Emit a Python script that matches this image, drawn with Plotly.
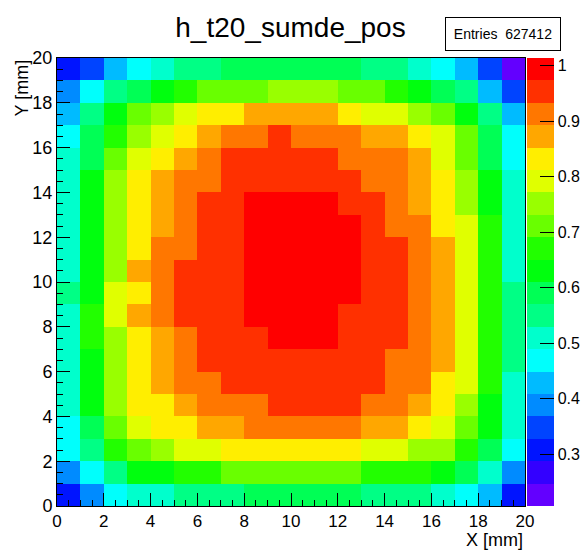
import plotly.graph_objects as go

TITLE = "h_t20_sumde_pos"
ENTRIES = 627412
X_TITLE = "X [mm]"
Y_TITLE = "Y [mm]"
X_RANGE = [0, 20]
Y_RANGE = [0, 20]
N_BINS_X = 20
N_BINS_Y = 20
Z_MIN = 0.207
Z_MAX = 1.014
AXIS_TICKS = [0, 2, 4, 6, 8, 10, 12, 14, 16, 18, 20]
CB_TICKS = [0.3, 0.4, 0.5, 0.6, 0.7, 0.8, 0.9, 1.0]
CB_TICK_TEXT = ["0.3", "0.4", "0.5", "0.6", "0.7", "0.8", "0.9", "1"]

# ROOT "pretty palette" colours used for the 20 contour levels (low -> high)
PALETTE = ["#6300ff", "#3300ff", "#0014ff", "#0044ff", "#008bff",
           "#00bbff", "#00fffc", "#00ffcc", "#00ff85", "#00ff55",
           "#00ff0e", "#22ff00", "#69ff00", "#99ff00", "#e0ff00",
           "#ffee00", "#ffa700", "#ff7700", "#ff3000", "#ff0000"]

# bin contents, rows from y=0 (bottom) to y=19 (top), columns x=0..19
Z = [
    [.31, .39, .47, .51, .51, .55, .55, .55, .59, .59, .59, .59, .59, .55, .55, .55, .51, .47, .43, .31],
    [.39, .47, .55, .63, .63, .67, .67, .71, .71, .71, .71, .71, .71, .67, .67, .67, .63, .59, .51, .39],
    [.47, .55, .67, .71, .75, .79, .79, .83, .83, .83, .83, .83, .83, .79, .79, .75, .75, .67, .59, .47],
    [.47, .59, .71, .79, .83, .83, .87, .87, .91, .91, .91, .91, .91, .87, .87, .83, .79, .71, .63, .51],
    [.51, .63, .75, .83, .83, .87, .91, .91, .91, .95, .95, .95, .95, .91, .91, .87, .83, .75, .63, .51],
    [.51, .63, .75, .83, .87, .91, .91, .95, .95, .95, .95, .95, .95, .95, .91, .91, .83, .79, .67, .51],
    [.51, .63, .75, .83, .87, .91, .95, .95, .95, .95, .95, .95, .95, .95, .91, .91, .87, .79, .67, .55],
    [.51, .67, .75, .83, .87, .91, .95, .95, .95, .99, .99, .99, .95, .95, .95, .91, .87, .79, .67, .55],
    [.51, .67, .79, .87, .91, .95, .95, .95, .99, .99, .99, .99, .95, .95, .95, .91, .87, .79, .67, .55],
    [.55, .63, .79, .83, .91, .95, .95, .95, .99, .99, .99, .99, .99, .95, .95, .91, .87, .79, .67, .55],
    [.51, .63, .75, .87, .91, .95, .95, .95, .99, .99, .99, .99, .99, .95, .95, .91, .87, .79, .67, .51],
    [.51, .63, .75, .83, .91, .91, .95, .95, .99, .99, .99, .99, .99, .95, .95, .91, .87, .79, .67, .51],
    [.51, .63, .75, .83, .87, .91, .95, .95, .99, .99, .99, .99, .99, .95, .91, .91, .83, .79, .67, .51],
    [.51, .63, .75, .83, .87, .91, .95, .95, .99, .99, .99, .99, .95, .95, .91, .87, .83, .75, .63, .51],
    [.51, .63, .75, .83, .87, .91, .91, .95, .95, .95, .95, .95, .95, .91, .91, .87, .83, .75, .63, .51],
    [.51, .59, .71, .79, .83, .87, .91, .95, .95, .95, .95, .95, .91, .91, .91, .87, .79, .71, .59, .47],
    [.47, .59, .67, .75, .79, .83, .87, .91, .91, .95, .91, .91, .91, .87, .87, .83, .79, .71, .59, .47],
    [.43, .55, .63, .71, .75, .79, .83, .83, .87, .87, .87, .87, .83, .79, .79, .75, .71, .63, .55, .43],
    [.39, .47, .55, .59, .63, .67, .71, .71, .71, .75, .75, .75, .71, .71, .67, .63, .59, .55, .43, .35],
    [.31, .35, .43, .47, .51, .55, .55, .59, .59, .59, .59, .59, .59, .55, .55, .51, .47, .43, .35, .23],
]

FONT = "Liberation Sans, Arial, Helvetica, sans-serif"
W, H = 581, 550
ML, MR, MT, MB = 57, 56, 58, 44
PW = W - ML - MR
PH = H - MT - MB

n = len(PALETTE)
colorscale = []
for i, c in enumerate(PALETTE):
    colorscale.append([i / n, c])
    colorscale.append([(i + 1) / n, c])

dx = (X_RANGE[1] - X_RANGE[0]) / N_BINS_X
dy = (Y_RANGE[1] - Y_RANGE[0]) / N_BINS_Y

fig = go.Figure(go.Heatmap(
    z=Z,
    x0=X_RANGE[0] + dx / 2, dx=dx,
    y0=Y_RANGE[0] + dy / 2, dy=dy,
    zmin=Z_MIN, zmax=Z_MAX,
    colorscale=colorscale,
    hoverinfo="skip",
    colorbar=dict(
        thickness=27, thicknessmode="pixels",
        len=1, lenmode="fraction",
        x=(527 - ML) / PW, xanchor="left", xpad=0,
        y=0.5, yanchor="middle", ypad=0,
        outlinewidth=0,
        ticks="inside", ticklen=14, tickwidth=1, tickcolor="black",
        tickvals=CB_TICKS, ticktext=CB_TICK_TEXT,
        tickfont=dict(family=FONT, size=16, color="black"),
    ),
))

axis_common = dict(
    showgrid=False, zeroline=False,
    showline=True, linecolor="black", linewidth=1, mirror=True,
    ticks="inside", ticklen=13, tickwidth=1, tickcolor="black",
    tickvals=AXIS_TICKS,
    minor=dict(dtick=0.5, ticks="inside", ticklen=6, tickcolor="black", tickwidth=1, showgrid=False),
)

fig.update_layout(
    width=W, height=H,
    margin=dict(l=ML, r=MR, t=MT, b=MB, autoexpand=False),
    paper_bgcolor="white", plot_bgcolor="white",
    font=dict(family=FONT, color="black"),
    xaxis=dict(range=X_RANGE, ticklabelstandoff=0,
               tickfont=dict(family=FONT, size=17, color="black"), **axis_common),
    yaxis=dict(range=Y_RANGE, ticklabelstandoff=0,
               tickfont=dict(family=FONT, size=18, color="black"), **axis_common),
    title=dict(text=TITLE, x=0.5, xref="container", xanchor="center",
               y=(H - 27) / H, yanchor="middle", yref="container",
               font=dict(family=FONT, size=28, color="black")),
    annotations=[
        dict(text=X_TITLE, xref="paper", yref="paper", x=1, y=0,
             xanchor="right", yanchor="top", yshift=-22, showarrow=False,
             font=dict(family=FONT, size=18, color="black")),
        dict(text=Y_TITLE, xref="paper", yref="paper", x=0, y=1,
             xanchor="center", yanchor="top", xshift=-36, textangle=-90,
             showarrow=False, font=dict(family=FONT, size=18, color="black")),
        dict(text="Entries  %d" % ENTRIES, xref="paper", yref="paper",
             x=(503 - ML) / PW, y=(H - MB - 34) / PH,
             xanchor="center", yanchor="middle", width=114, height=32,
             bordercolor="black", borderwidth=1, borderpad=0, bgcolor="white",
             showarrow=False, font=dict(family=FONT, size=14, color="black")),
    ],
)

fig.write_html("out.html", config={"displayModeBar": False})
